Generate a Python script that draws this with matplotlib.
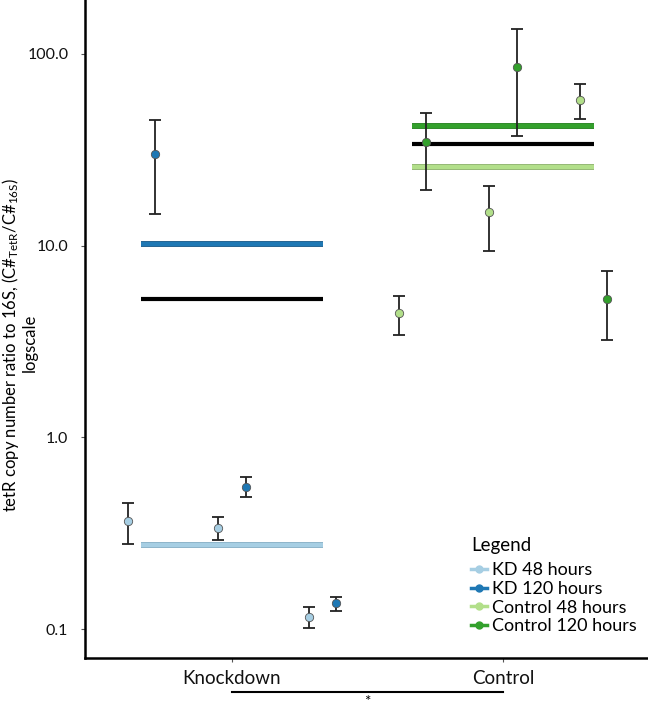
import matplotlib
matplotlib.use("Agg")
import matplotlib.pyplot as plt
import matplotlib.patheffects as pe
import matplotlib.transforms as mtransforms
import numpy as np

plt.rcParams['font.family'] = ['Lato', 'DejaVu Sans']
plt.rcParams['mathtext.fontset'] = 'custom'
plt.rcParams['mathtext.rm'] = 'Lato'
plt.rcParams['mathtext.it'] = 'Lato'

groups = ["Knockdown", "Control"]
series_names = ["KD 48 hours", "KD 120 hours", "Control 48 hours", "Control 120 hours"]
series_colors = ["#a6cee3", "#1f78b4", "#b2df8a", "#33a02c"]
series_group = [0, 0, 1, 1]

# replicate values (3 replicates each) and error (+/-)
kd48_vals = [0.366, 0.338, 0.1155]
kd48_err = [0.090, 0.046, 0.0145]
kd120_vals = [29.9, 0.553, 0.136]
kd120_err = [15.3, 0.065, 0.0116]
c48_vals = [4.43, 14.9, 57.8]
c48_err = [1.03, 5.5, 11.9]
c120_vals = [34.5, 85.9, 5.29]
c120_err = [14.9, 48.5, 2.08]

all_vals = [kd48_vals, kd120_vals, c48_vals, c120_vals]
all_err = [kd48_err, kd120_err, c48_err, c120_err]

yticks = [0.1, 1.0, 10.0, 100.0]
ytick_labels = ["0.1", "1.0", "10.0", "100.0"]

fig = plt.figure(figsize=(6.48, 7.12), dpi=100)
ax = fig.add_axes([85/648, 54/712, 563/648, 658/712])

rep_offsets = np.array([-0.335, 0.0, 0.335])
dodge = [-0.05, 0.05, -0.05, 0.05]
half = 0.336

# group mean lines (black) and series mean lines
for gi in range(2):
    vals = []
    for si in range(4):
        if series_group[si] == gi:
            vals += all_vals[si]
    ax.plot([gi + 1 - half, gi + 1 + half], [np.mean(vals)] * 2, color="black",
            lw=3, solid_capstyle="butt", zorder=2)

for si in range(4):
    gx = series_group[si] + 1
    m = np.mean(all_vals[si])
    dark = {0: "#7fa8bf", 1: "#1a5580", 2: "#86a866", 3: "#217a1c"}[si]
    ax.plot([gx - half, gx + half], [m, m], color=series_colors[si], lw=3.2,
            solid_capstyle="butt", zorder=2,
            path_effects=[pe.Stroke(linewidth=4.2, foreground=dark), pe.Normal()])

handles = []
for si in range(4):
    gx = series_group[si] + 1
    xs = gx + rep_offsets + dodge[si]
    ax.errorbar(xs, all_vals[si], yerr=all_err[si], fmt="none", ecolor="#222222",
                elinewidth=1.3, capsize=4, capthick=1.3, zorder=3)
    ax.plot(xs, all_vals[si], "o", color=series_colors[si], markersize=6.0,
            markeredgecolor="#555555", markeredgewidth=0.6, zorder=4)
    h, = ax.plot([], [], "-o", color=series_colors[si], markersize=5, lw=2.5,
                 label=series_names[si])
    handles.append(h)

ax.set_yscale("log")
ax.set_ylim(0.0706, 191)
ax.set_xlim(0.4576, 2.535)
ax.set_yticks(yticks)
ax.set_yticklabels(ytick_labels)
ax.yaxis.set_minor_locator(matplotlib.ticker.NullLocator())
ax.set_xticks([1, 2])
ax.set_xticklabels(groups)
ax.tick_params(axis="both", length=3, width=0.8, color="#555555",
               labelcolor="#111111")
ax.tick_params(axis="y", pad=9, labelsize=11.5)
ax.tick_params(axis="x", pad=6, labelsize=13.5)

for s in ["top", "right"]:
    ax.spines[s].set_visible(False)
for s in ["left", "bottom"]:
    ax.spines[s].set_linewidth(1.8)
    ax.spines[s].set_color("black")

fig.text(11/648, 1 - 345/712,
         "tetR copy number ratio to 16S, (C#$_{\\mathregular{TetR}}$/C#$_{\\mathregular{16S}}$)",
         rotation=90, ha="center", va="center", fontsize=12)
fig.text(30/648, 1 - 343/712, "logscale", rotation=90, ha="center", va="center",
         fontsize=12)

leg = ax.legend(handles=handles, title="Legend", loc="upper left",
                bbox_to_anchor=(471/648, 1 - 537/712), bbox_transform=fig.transFigure,
                frameon=False, fontsize=13, title_fontsize=13.5, handlelength=0.9,
                handletextpad=0.25, labelspacing=0.15, alignment="left",
                borderaxespad=0, borderpad=0)
leg._legend_box.sep = 6

# significance bracket
trans = mtransforms.blended_transform_factory(ax.transData, fig.transFigure)
ax.plot([1, 2], [1 - 692/712] * 2, color="black", lw=1.5, transform=trans, clip_on=False)
ax.text(1.5, 1 - 702/712, "*", transform=trans, ha="center", va="center", fontsize=11)

fig.savefig("out.png", dpi=100)
